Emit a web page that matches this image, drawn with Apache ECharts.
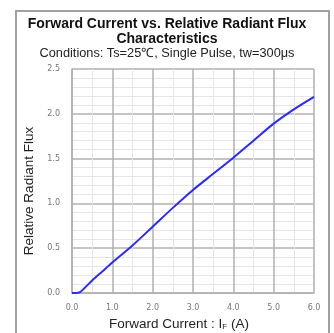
<!DOCTYPE html>
<html>
<head>
<meta charset="utf-8">
<script src="https://cdn.jsdelivr.net/npm/echarts@6/dist/echarts.min.js"></script>
<style>
  html, body { margin: 0; padding: 0; background: #fff; }
  #chart { width: 334px; height: 333px; }
</style>
</head>
<body>
<div id="chart"></div>
<script>
// forward current (A) and relative radiant flux
var current = [0, 0.1, 0.2, 0.3, 0.5, 0.75, 1.0, 1.5, 2.0, 2.5, 3.0, 3.5, 4.0, 4.5, 5.0, 5.5, 6.0];
var flux = [0, 0.0, 0.01, 0.05, 0.14, 0.24, 0.34, 0.53, 0.74, 0.95, 1.15, 1.33, 1.51, 1.70, 1.89, 2.05, 2.19];

var titleLines = "Forward Current vs. Relative Radiant Flux\nCharacteristics";
var conditions = "Conditions: Ts=25\u2103, Single Pulse, tw=300\u03bcs";

var myChart = echarts.init(document.getElementById("chart"));

var points = current.map(function (c, i) {
  return [c, flux[i]];
});

var option = {
  animation: false,
  title: {
    text: titleLines,
    subtext: conditions,
    left: "center",
    top: 12,
    itemGap: 0,
    textStyle: {
      fontFamily: "Liberation Sans",
      fontWeight: "bold",
      fontSize: 14,
      lineHeight: 15,
      color: "#111",
    },
    subtextStyle: {
      fontFamily: "Liberation Sans",
      fontSize: 12.75,
      color: "#222",
    },
  },
  // outer frame
  graphic: [
    {
      type: "rect",
      shape: { x: 16, y: 11, width: 313, height: 330 },
      style: { fill: "none", stroke: "#a0a0a0", lineWidth: 2 },
    },
  ],
  grid: {
    left: 72,
    right: 20,
    top: 69,
    bottom: 40,
    outerBoundsMode: "none",
  },
  xAxis: {
    type: "value",
    min: 0,
    max: 6,
    interval: 1,
    name: "Forward Current : {s|I}{sub|F} (A)",
    nameLocation: "middle",
    nameGap: 23,
    nameTextStyle: {
      fontFamily: "Liberation Sans",
      fontSize: 13.5,
      color: "#222",
      padding: [0, 28, 0, 0],
      rich: {
        s: { fontFamily: "Liberation Sans", fontSize: 13.5, color: "#222" },
        sub: { fontFamily: "Liberation Sans", fontSize: 8, color: "#222", verticalAlign: "bottom", padding: [6, 0, 0, 0] },
      },
    },
    axisLine: { show: true, lineStyle: { color: "#b0b0b0", width: 1.5 } },
    axisTick: { show: false },
    axisLabel: {
      margin: 11,
      fontFamily: "DejaVu Sans",
      fontSize: 8,
      color: "#777",
      formatter: function (v) { return v.toFixed(1); },
    },
    splitLine: { show: true, lineStyle: { color: "#b0b0b0", width: 1.5 } },
    minorTick: { show: false, splitNumber: 2 },
    minorSplitLine: { show: true, lineStyle: { color: "#e6e6e6", width: 1 } },
  },
  yAxis: {
    type: "value",
    min: 0,
    max: 2.5,
    interval: 0.5,
    name: "Relative Radiant Flux",
    nameLocation: "middle",
    nameGap: 28,
    nameTextStyle: {
      fontFamily: "Liberation Sans",
      fontSize: 13.5,
      color: "#222",
      padding: [0, 20, 0, 0],
    },
    axisLine: { show: true, lineStyle: { color: "#b0b0b0", width: 1.5 } },
    axisTick: { show: false },
    axisLabel: {
      margin: 12,
      fontFamily: "DejaVu Sans",
      fontSize: 8,
      color: "#777",
      formatter: function (v) { return v.toFixed(1); },
    },
    splitLine: { show: true, lineStyle: { color: "#b0b0b0", width: 1.5 } },
    minorTick: { show: false, splitNumber: 5 },
    minorSplitLine: { show: true, lineStyle: { color: "#e6e6e6", width: 1 } },
  },
  series: [
    {
      type: "line",
      data: points,
      smooth: 0.3,
      symbol: "none",
      lineStyle: { color: "#2a2aff", width: 2 },
    },
  ],
};
myChart.setOption(option);
</script>
</body>
</html>
